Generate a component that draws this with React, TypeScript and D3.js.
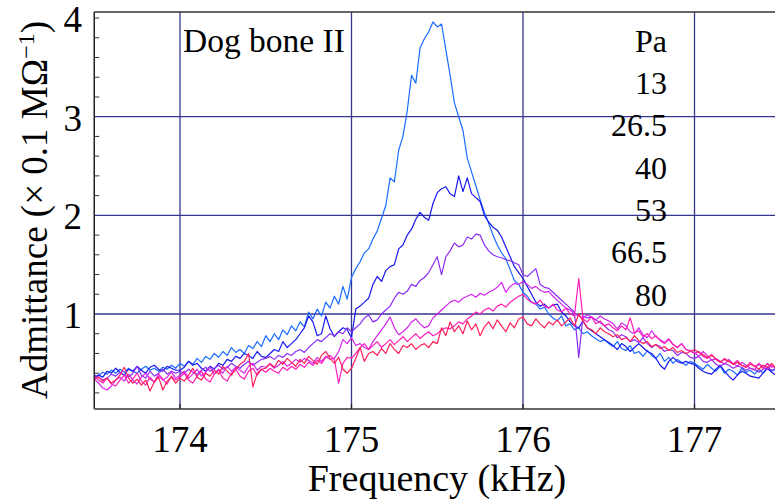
import React from 'react';
import * as d3 from 'd3';

// Sampling grid of the sweep (kHz)
const freqStart = 173.5;
const freqStep = 0.025;

// Admittance (×0.1 MΩ^-1) per pressure
const p13 = [
  0.36,0.38,0.41,0.39,0.43,0.40,0.44,0.41,0.45,0.42,0.40,0.44,0.47,0.43,0.45,0.42,0.46,0.44,0.48,0.45,
  0.50,0.47,0.52,0.49,0.55,0.51,0.57,0.54,0.60,0.56,0.62,0.58,0.66,0.61,0.64,0.60,0.68,0.65,0.72,0.67,
  0.78,0.72,0.80,0.74,0.84,0.79,0.88,0.83,0.92,0.87,1.02,0.95,1.05,0.98,1.12,1.06,1.18,1.10,1.28,1.15,
  1.37,1.46,1.53,1.62,1.66,1.76,1.84,1.97,2.10,2.38,2.34,2.66,2.80,3.06,3.42,3.34,3.70,3.79,3.86,3.96,
  3.91,3.94,3.68,3.42,3.14,3.00,2.86,2.58,2.44,2.30,2.16,2.03,1.92,1.80,1.70,1.62,1.56,1.45,1.34,1.30,
  1.22,1.18,1.12,1.10,1.05,1.07,1.00,0.96,0.93,0.98,0.88,0.90,0.84,0.86,0.80,0.82,0.78,0.75,0.72,0.74,
  0.70,0.67,0.72,0.65,0.63,0.68,0.60,0.62,0.57,0.63,0.58,0.55,0.60,0.52,0.56,0.50,0.54,0.51,0.48,0.52,
  0.50,0.47,0.44,0.49,0.45,0.42,0.47,0.40,0.44,0.42,0.38,0.45,0.41,0.43,0.39,0.44,0.40,0.46,0.42,0.44,0.43,
];
const p26_5 = [
  0.35,0.38,0.36,0.42,0.40,0.45,0.41,0.38,0.44,0.42,0.47,0.43,0.40,0.46,0.48,0.44,0.42,0.47,0.45,0.43,
  0.43,0.46,0.52,0.48,0.50,0.45,0.42,0.47,0.44,0.50,0.48,0.54,0.52,0.57,0.55,0.60,0.58,0.55,0.62,0.57,
  0.56,0.60,0.64,0.62,0.72,0.66,0.70,0.74,0.80,0.86,0.98,0.92,0.78,0.80,0.98,0.85,0.77,0.82,0.86,0.84,
  0.76,1.05,1.08,1.12,1.16,1.30,1.38,1.33,1.44,1.48,1.50,1.66,1.70,1.80,1.86,1.96,2.03,1.98,1.95,2.12,
  2.23,2.27,2.29,2.22,2.19,2.40,2.24,2.38,2.22,2.18,2.14,2.00,1.93,1.88,1.85,1.78,1.68,1.58,1.48,1.42,
  1.36,1.28,1.20,1.12,1.08,1.10,1.06,1.09,1.10,1.02,0.98,0.92,0.88,0.86,0.93,0.86,0.83,0.80,0.77,0.74,
  0.71,0.68,0.64,0.70,0.67,0.62,0.66,0.70,0.66,0.62,0.60,0.55,0.48,0.44,0.52,0.56,0.52,0.50,0.52,0.50,
  0.49,0.45,0.42,0.40,0.39,0.44,0.48,0.42,0.37,0.33,0.38,0.42,0.40,0.37,0.36,0.35,0.40,0.45,0.41,0.38,0.40,
];
const p40 = [
  0.38,0.36,0.33,0.35,0.39,0.37,0.41,0.38,0.36,0.40,0.47,0.38,0.35,0.42,0.37,0.40,0.44,0.39,0.42,0.40,
  0.42,0.40,0.44,0.41,0.39,0.43,0.46,0.42,0.45,0.48,0.44,0.46,0.50,0.47,0.45,0.49,0.52,0.48,0.51,0.54,
  0.55,0.57,0.54,0.58,0.56,0.60,0.58,0.62,0.64,0.61,0.66,0.70,0.74,0.72,0.76,0.80,0.78,0.82,0.80,0.86,
  0.82,0.86,0.90,0.96,0.99,0.92,0.94,1.00,1.04,1.08,1.16,1.22,1.20,1.23,1.30,1.28,1.34,1.37,1.42,1.50,
  1.58,1.40,1.58,1.64,1.72,1.68,1.70,1.78,1.76,1.81,1.80,1.70,1.64,1.60,1.58,1.57,1.55,1.54,1.52,1.50,
  1.40,1.38,1.42,1.46,1.30,1.27,1.26,1.22,1.18,1.14,1.10,1.06,1.02,0.56,0.98,0.96,0.97,0.94,0.91,0.88,
  0.84,0.82,0.76,0.79,0.77,0.72,0.74,0.71,0.76,0.70,0.66,0.69,0.67,0.62,0.64,0.63,0.58,0.61,0.60,0.56,
  0.55,0.57,0.52,0.51,0.54,0.49,0.47,0.50,0.48,0.45,0.47,0.46,0.43,0.45,0.44,0.41,0.44,0.46,0.43,0.45,0.44,
];
const p53 = [
  0.34,0.30,0.25,0.23,0.27,0.33,0.36,0.32,0.39,0.33,0.29,0.36,0.40,0.34,0.31,0.37,0.33,0.36,0.41,0.35,
  0.38,0.42,0.35,0.39,0.44,0.37,0.41,0.46,0.39,0.44,0.40,0.47,0.42,0.46,0.43,0.40,0.47,0.50,0.43,0.47,
  0.46,0.49,0.45,0.48,0.52,0.47,0.50,0.54,0.51,0.55,0.53,0.50,0.56,0.52,0.57,0.54,0.55,0.62,0.74,0.70,
  0.76,0.68,0.70,0.66,0.64,0.72,0.78,0.84,0.90,0.97,0.86,0.79,0.82,0.86,0.92,0.95,0.90,0.86,0.88,0.96,
  1.00,1.04,1.08,1.12,1.14,1.12,1.16,1.18,1.20,1.17,1.21,1.19,1.22,1.24,1.27,1.32,1.22,1.28,1.31,1.30,
  1.33,1.30,1.26,1.28,1.24,1.22,1.23,1.18,1.14,1.10,1.06,1.04,1.00,0.98,0.96,0.99,0.97,0.94,0.98,0.95,
  0.93,0.90,0.85,0.91,0.88,0.82,0.80,0.86,0.79,0.76,0.83,0.77,0.74,0.71,0.75,0.69,0.66,0.70,0.64,0.62,
  0.61,0.57,0.62,0.58,0.53,0.55,0.52,0.49,0.54,0.50,0.47,0.51,0.48,0.45,0.43,0.50,0.46,0.44,0.48,0.45,0.46,
];
const p66_5 = [
  0.37,0.33,0.30,0.35,0.29,0.27,0.33,0.38,0.30,0.34,0.40,0.32,0.28,0.36,0.31,0.39,0.34,0.29,0.37,0.33,
  0.36,0.40,0.33,0.30,0.37,0.42,0.34,0.31,0.39,0.43,0.35,0.32,0.40,0.44,0.37,0.34,0.42,0.45,0.38,0.44,
  0.41,0.45,0.42,0.40,0.46,0.43,0.47,0.44,0.49,0.46,0.51,0.48,0.53,0.50,0.56,0.58,0.54,0.30,0.50,0.56,
  0.55,0.60,0.66,0.70,0.64,0.68,0.72,0.66,0.70,0.74,0.69,0.73,0.77,0.72,0.76,0.80,0.75,0.79,0.82,0.78,
  0.80,0.84,0.86,0.85,0.88,0.92,0.90,0.95,0.98,1.02,1.00,1.04,1.06,1.03,1.08,1.10,1.07,1.12,1.15,1.18,
  1.20,1.15,1.12,1.10,1.14,1.08,1.06,1.10,1.04,1.02,1.06,1.00,0.98,1.36,0.95,0.92,0.97,0.90,0.93,0.88,
  0.90,0.86,0.83,0.88,0.84,0.96,0.81,0.83,0.77,0.80,0.75,0.78,0.73,0.70,0.74,0.69,0.66,0.70,0.64,0.63,
  0.60,0.62,0.57,0.55,0.59,0.54,0.51,0.55,0.52,0.49,0.53,0.48,0.46,0.51,0.47,0.49,0.45,0.50,0.46,0.47,0.46,
];
const p80 = [
  0.34,0.36,0.32,0.35,0.30,0.33,0.38,0.46,0.35,0.30,0.34,0.28,0.33,0.22,0.31,0.36,0.23,0.32,0.36,0.30,
  0.35,0.32,0.38,0.45,0.36,0.33,0.40,0.37,0.43,0.39,0.47,0.42,0.38,0.44,0.49,0.52,0.60,0.26,0.40,0.44,
  0.45,0.50,0.46,0.53,0.49,0.55,0.51,0.47,0.54,0.50,0.57,0.53,0.49,0.58,0.62,0.55,0.50,0.56,0.44,0.40,
  0.45,0.55,0.66,0.52,0.60,0.62,0.58,0.65,0.60,0.70,0.64,0.60,0.68,0.66,0.70,0.64,0.68,0.70,0.66,0.72,
  0.70,0.86,0.78,0.92,0.82,0.88,0.80,0.93,0.84,0.90,0.78,0.87,0.92,0.85,0.94,0.88,0.82,0.91,0.86,0.95,
  0.97,0.90,0.88,0.95,0.90,0.86,0.92,0.89,0.94,0.88,0.92,0.96,0.88,1.00,0.93,0.86,0.84,0.80,0.86,0.82,
  0.80,0.77,0.79,0.74,0.76,0.72,0.78,0.73,0.70,0.72,0.67,0.69,0.65,0.67,0.63,0.66,0.61,0.63,0.60,0.62,
  0.64,0.61,0.59,0.56,0.58,0.54,0.51,0.54,0.52,0.49,0.51,0.48,0.46,0.49,0.47,0.44,0.48,0.46,0.50,0.45,0.47,
];

const seriesData = [p13, p26_5, p40, p53, p66_5, p80];
const pressures = ['13', '26.5', '40', '53', '66.5', '80'];
const seriesColors = ['#1a6cff', '#1818f0', '#8a2cf6', '#d424ee', '#ff1cb8', '#ff1f58'];
const xTicks = [174, 175, 176, 177];
const yTicks = [1, 2, 3, 4];
const yMinorTicks = [0.2, 0.4, 0.6, 0.8, 1.2, 1.4, 1.6, 1.8, 2.2, 2.4, 2.6, 2.8, 3.2, 3.4, 3.6, 3.8];

const FONT = '"Liberation Serif"';
const GRID = '#36368f';
const txt: React.CSSProperties = { fontFamily: FONT };

export default function App() {
  const W = 775, H = 502;
  const x = d3.scaleLinear().domain([174, 177]).range([180, 694.5]);
  const y = d3.scaleLinear().domain([0, 4]).range([412.65, 18.05]);
  const left = x(173.5), right = x(177.5);
  const top = 12, bottom = 409;

  const line = d3.line<number>()
    .x((_, i) => x(freqStart + i * freqStep))
    .y((d) => y(d));

  return (
    <svg width={W} height={H} viewBox={`0 0 ${W} ${H}`}
      style={{ position: 'absolute', left: 0, top: 0, display: 'block', background: '#fff' }}>
      <defs>
        <clipPath id="plot">
          <rect x={left} y={top} width={right - left} height={bottom - top} />
        </clipPath>
      </defs>
      <rect x={0} y={0} width={W} height={H} fill="#fff" />

      {/* grid */}
      {xTicks.map((t) => (
        <line key={'gx' + t} x1={x(t)} x2={x(t)} y1={top} y2={bottom} stroke={GRID} strokeWidth={1.3} />
      ))}
      {yTicks.filter((t) => t < 4).map((t) => (
        <line key={'gy' + t} x1={left} x2={right} y1={y(t)} y2={y(t)} stroke={GRID} strokeWidth={1.3} />
      ))}

      {/* series */}
      <g clipPath="url(#plot)">
        {seriesData.map((s, k) => (
          <path key={pressures[k]} d={line(s) || ''} fill="none" stroke={seriesColors[k]}
            strokeWidth={1.2} strokeLinejoin="round" />
        ))}
      </g>

      {/* frame */}
      <line x1={left} x2={right} y1={top} y2={top} stroke="#333" strokeWidth={1.3} />
      <line x1={left} x2={left} y1={top} y2={bottom} stroke="#222" strokeWidth={1.5} />
      <line x1={left} x2={right} y1={bottom} y2={bottom} stroke="#666" strokeWidth={2} />

      {/* ticks */}
      {yMinorTicks.concat([4]).map((t) => (
        <line key={'ty' + t} x1={left} x2={left + 5} y1={y(t)} y2={y(t)} stroke="#333" strokeWidth={1} />
      ))}
      {xTicks.map((t) => (
        <line key={'tx' + t} x1={x(t)} x2={x(t)} y1={bottom} y2={bottom - 5} stroke="#222" strokeWidth={1.3} />
      ))}

      {/* tick labels */}
      {yTicks.map((t) => (
        <text key={'ly' + t} x={82} y={y(t) + 14} textAnchor="end" fontSize={37} fill="#000" style={txt}>{t}</text>
      ))}
      {xTicks.map((t) => (
        <text key={'lx' + t} x={x(t)} y={452} textAnchor="middle" fontSize={37} fill="#000" style={txt}>{t}</text>
      ))}

      {/* axis titles */}
      <text x={437} y={491} textAnchor="middle" fontSize={38} fill="#000" style={txt}>Frequency (kHz)</text>
      <text transform="translate(47,210) rotate(-90)" textAnchor="middle" fontSize={37} fill="#000" style={txt}>
        Admittance (× 0.1 MΩ<tspan dy={-13} fontSize={24}>−1</tspan><tspan dy={13}>)</tspan>
      </text>

      {/* annotations */}
      <text x={183} y={52} fontSize={33.5} fill="#000" style={txt}>Dog bone II</text>
      <text x={667} y={52} textAnchor="end" fontSize={32} fill="#000" style={txt}>Pa</text>
      {pressures.map((p, k) => (
        <text key={'lg' + p} x={667} y={94 + k * 42.3} textAnchor="end" fontSize={32} fill="#000" style={txt}>{p}</text>
      ))}
    </svg>
  );
}
